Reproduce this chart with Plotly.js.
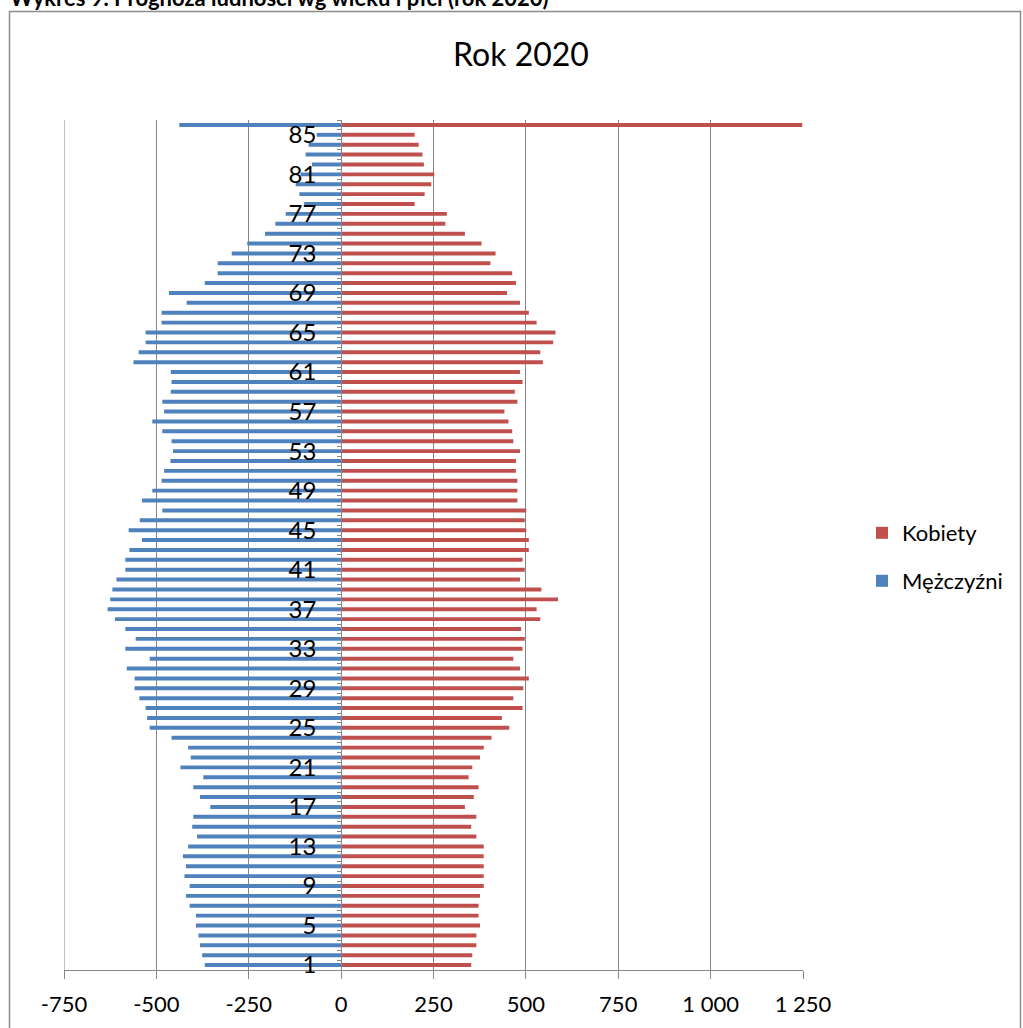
<!DOCTYPE html>
<html>
<head>
<meta charset="utf-8">
<script src="https://cdn.plot.ly/plotly-3.0.1.min.js"></script>
<style>
  html, body { margin:0; padding:0; background:#fff; }
  #chart { width:1023px; height:1028px; }
</style>
</head>
<body>
<div id="chart"></div>
<script>
// Age groups (86 = oldest aggregated group)
var ages = [1,2,3,4,5,6,7,8,9,10,11,12,13,14,15,16,17,18,19,20,
            21,22,23,24,25,26,27,28,29,30,31,32,33,34,35,36,37,38,39,40,
            41,42,43,44,45,46,47,48,49,50,51,52,53,54,55,56,57,58,59,60,
            61,62,63,64,65,66,67,68,69,70,71,72,73,74,75,76,77,78,79,80,
            81,82,83,84,85,86];

// Kobiety (women), by age 1..86
var kobiety = [352,355,366,366,376,372,372,376,386,386,
               386,386,386,366,352,366,335,359,372,345,
               355,376,386,407,455,435,491,466,493,508,
               484,466,491,497,487,539,529,587,542,484,
               497,491,508,508,501,497,501,477,477,477,
               473,473,484,466,463,453,442,477,470,491,
               484,546,539,574,580,529,508,484,449,473,
               463,404,418,380,335,282,286,199,226,244,
               252,224,220,210,199,1248];

// Mężczyźni (men), by age 1..86, drawn to the left
var mezczyzni = [-369,-376,-382,-386,-393,-393,-410,-420,-410,-424,
                 -420,-428,-414,-390,-403,-400,-354,-382,-400,-373,
                 -435,-407,-414,-459,-518,-525,-529,-546,-559,-559,
                 -580,-518,-584,-556,-584,-612,-632,-625,-619,-608,
                 -584,-584,-573,-539,-575,-545,-484,-539,-511,-486,
                 -479,-462,-455,-459,-484,-511,-479,-484,-461,-459,
                 -461,-562,-548,-529,-529,-486,-486,-418,-466,-369,
                 -334,-334,-296,-254,-206,-178,-150,-100,-113,-123,
                 -110,-79,-96,-88,-66,-438];

var yTickVals = [1,5,9,13,17,21,25,29,33,37,41,45,49,53,57,61,65,69,73,77,81,85];
var yTickText = ['1','5','9','13','17','21','25','29','33','37','41','45','49','53','57','61','65','69','73','77','81','85'];
var xTickVals = [-750,-500,-250,0,250,500,750,1000,1250];
var xTickText = ['-750','-500','-250','0','250','500','750','1 000','1 250'];

var titleText = 'Rok 2020';
var headerText = 'Wykres 9. Prognoza ludności wg wieku i płci (rok 2020)';

var FONT = 'Lato, Carlito, "Open Sans", sans-serif';
var GRID = '#868686';

var traces = [
  {
    type:'bar', orientation:'h', name:'Kobiety',
    x: kobiety, y: ages,
    marker:{color:'#C0504D'},
    legend:'legend', hoverinfo:'skip'
  },
  {
    type:'bar', orientation:'h', name:'Mężczyźni',
    x: mezczyzni, y: ages,
    marker:{color:'#4F81BD'},
    legend:'legend2', hoverinfo:'skip'
  }
];

// plot area in pixels: x 64..803, y 120..970
function px(xp){ return (xp-64)/739; }
function py(yp){ return (970-yp)/850; }

var layout = {
  width:1023, height:1028,
  margin:{l:64, r:220, t:120, b:58, pad:0},
  paper_bgcolor:'#fff', plot_bgcolor:'#fff',
  font:{family:FONT, color:'#000', size:22},
  title:{text:titleText, font:{family:FONT, size:32, color:'#000'},
         x:521/1023, xref:'container', xanchor:'center',
         y:1-55/1028, yref:'container', yanchor:'middle'},
  barmode:'relative', bargap:0.6,
  xaxis:{
    range:[-750,1250], tickmode:'array', tickvals:xTickVals, ticktext:xTickText,
    showgrid:true, gridcolor:GRID, gridwidth:1, zeroline:false,
    showline:true, linecolor:GRID, linewidth:1,
    ticks:'outside', ticklen:8, tickcolor:GRID, tickwidth:1,
    tickfont:{family:FONT, size:22, color:'#000'},
    ticklabelstandoff:7, fixedrange:true
  },
  yaxis:{
    range:[0.5,86.5], tickmode:'array', tickvals:yTickVals, ticktext:yTickText,
    ticks:'', showgrid:false, zeroline:false,
    showline:true, linecolor:GRID, linewidth:1,
    anchor:'free', position:0.375,
    tickfont:{family:FONT, size:24, color:'#000'},
    ticklabelstandoff:20,
    minor:{tick0:0.5, dtick:1, ticks:'outside', ticklen:4, tickcolor:GRID, tickwidth:1, showgrid:false},
    fixedrange:true
  },
  showlegend:true,
  legend:{x:px(862), xanchor:'left', y:py(533), yanchor:'middle',
          font:{family:FONT, size:22, color:'#000'}, bgcolor:'rgba(0,0,0,0)'},
  legend2:{x:px(862), xanchor:'left', y:py(581), yanchor:'middle',
          font:{family:FONT, size:22, color:'#000'}, bgcolor:'rgba(0,0,0,0)'},
  shapes:[
    // left-edge gridline (plotly drops the grid line at the range edge)
    {type:'line', xref:'x', yref:'paper', x0:xTickVals[0], x1:xTickVals[0], y0:0, y1:1,
     line:{color:GRID, width:1}, layer:'below'},
    {type:'rect', xref:'paper', yref:'paper',
     x0:px(9.5), x1:px(1020.5), y0:py(1040), y1:py(11.5),
     line:{color:'#8c8c8c', width:1.5}, fillcolor:'rgba(0,0,0,0)', layer:'above'}
  ],
  annotations:[
    {text:'<b>'+headerText+'</b>', xref:'paper', yref:'paper',
     x:px(8), xanchor:'left', y:py(-2), yanchor:'middle',
     showarrow:false, font:{family:FONT, size:22, color:'#000'}}
  ]
};

Plotly.newPlot('chart', traces, layout, {staticPlot:true, displayModeBar:false});
</script>
</body>
</html>
